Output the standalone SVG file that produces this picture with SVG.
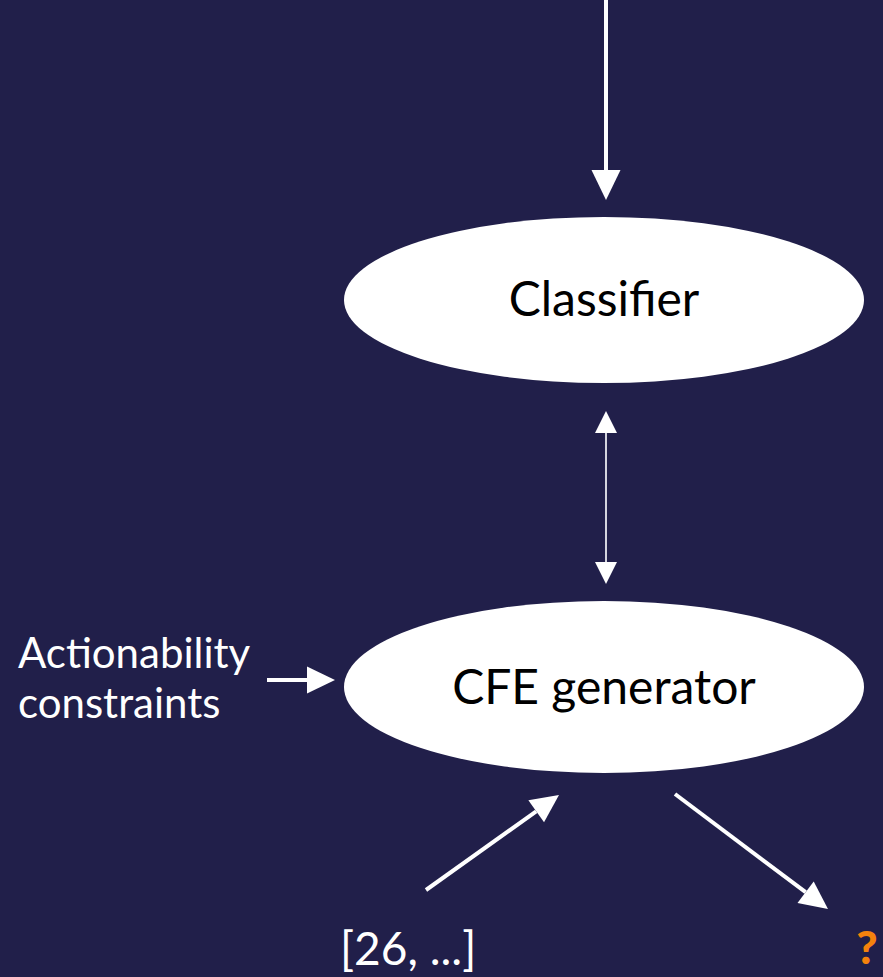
<svg xmlns="http://www.w3.org/2000/svg" width="883" height="977" viewBox="0 0 883 977">
  <style>
    .node { fill: #ffffff; }
    .label { font-family: Lato, "Liberation Sans", sans-serif; font-size: 48px; fill: #000000; text-anchor: middle; }
    .note { font-family: Lato, "Liberation Sans", sans-serif; font-size: 42px; fill: #ffffff; }
    .wire { stroke: #ffffff; stroke-width: 4; fill: none; }
    .thin { stroke: #d4d4de; stroke-width: 2; fill: none; }
  </style>
  <defs>
    <marker id="head" markerUnits="userSpaceOnUse" orient="auto" refX="0" refY="0" markerWidth="30" markerHeight="30" overflow="visible">
      <path d="M0,-14.5 L30,0 L0,14.5 z" fill="#ffffff"/>
    </marker>
    <marker id="headS" markerUnits="userSpaceOnUse" orient="auto" refX="0" refY="0" markerWidth="28" markerHeight="28" overflow="visible">
      <path d="M0,-13.5 L28,0 L0,13.5 z" fill="#ffffff"/>
    </marker>
    <marker id="headT" markerUnits="userSpaceOnUse" orient="auto-start-reverse" refX="0" refY="0" markerWidth="22" markerHeight="22" overflow="visible">
      <path d="M0,-11 L22,0 L0,11 z" fill="#ffffff"/>
    </marker>
  </defs>

  <rect x="0" y="0" width="883" height="977" fill="#211f4a"/>

  <g id="classifier">
    <ellipse class="node" cx="604" cy="300" rx="260" ry="83"/>
    <text class="label" x="604" y="316">Classifier</text>
  </g>

  <g id="cfe-generator">
    <ellipse class="node" cx="604" cy="687" rx="260" ry="86"/>
    <text class="label" x="604" y="704">CFE generator</text>
  </g>

  <g id="constraints">
    <text class="note" x="18" y="668">Actionability</text>
    <text class="note" x="18" y="718">constraints</text>
  </g>

  <g id="instance">
    <text class="note" x="340" y="965" style="font-size:46px">[26, ...]</text>
  </g>

  <g id="outcome">
    <text x="867" y="964" text-anchor="middle" style="font-family: Lato, 'Liberation Sans', sans-serif; font-size: 46px; font-weight: 900; fill: #f5820d;">?</text>
  </g>

  <g id="connectors">
    <line class="wire" x1="606" y1="0" x2="606" y2="170" marker-end="url(#head)"/>
    <line class="thin" x1="606" y1="433" x2="606" y2="562" marker-start="url(#headT)" marker-end="url(#headT)"/>
    <line class="wire" x1="267" y1="680" x2="307" y2="680" marker-end="url(#headS)"/>
    <line class="wire" x1="426" y1="890" x2="536.2" y2="811.3" marker-end="url(#headS)"/>
    <line class="wire" x1="675" y1="794" x2="805.6" y2="892.2" marker-end="url(#headS)"/>
  </g>
</svg>
